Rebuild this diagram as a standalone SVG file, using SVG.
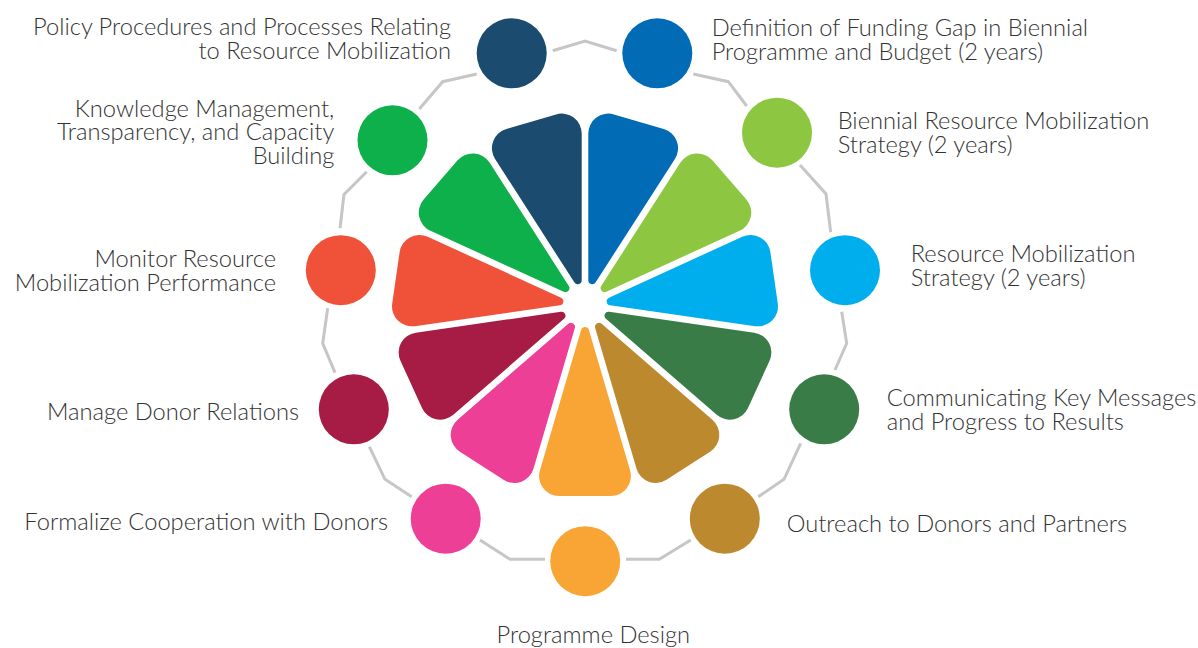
<svg xmlns="http://www.w3.org/2000/svg" width="1198" height="648" viewBox="0 0 1198 648">
<style>
.lbl{font-family:Lato,"Open Sans","Liberation Sans",sans-serif;font-weight:300;font-size:23.7px;fill:#333333}
.end{text-anchor:end}
.mid{text-anchor:middle}
.conn{fill:none;stroke:#C6C6C6;stroke-width:3;stroke-linejoin:miter}
</style>
<defs>
<path id="petal" d="M -3.84,-24.77 A 4 4 0 0 0 3.84,-24.77 L 45.14,-165.40 A 20 20 0 0 0 25.95,-191.03 L -25.95,-191.03 A 20 20 0 0 0 -45.14,-165.40 Z"/>
</defs>
<rect width="1198" height="648" fill="#FFFFFF"/>
<g id="connectors">
<polyline class="conn" points="552.7,50.7 585,41 616.7,50.7"/>
<polyline class="conn" points="693.3,74 728.3,81.7 746.7,106"/>
<polyline class="conn" points="800,165 826,194 830.7,232.3"/>
<polyline class="conn" points="841.7,311.7 846.7,343.3 835,370"/>
<polyline class="conn" points="800.7,443.3 784,479.3 758.3,496.7"/>
<polyline class="conn" points="690.7,540 659.3,559.3 626,559.3"/>
<polyline class="conn" points="545,559.3 510,559.3 480,540"/>
<polyline class="conn" points="411.7,496.7 385,479.3 369.3,446.7"/>
<polyline class="conn" points="335,372.7 322.7,343.3 327.7,308.3"/>
<polyline class="conn" points="340,228.3 344,194.5 366.7,171.7"/>
<polyline class="conn" points="419.3,109 442.7,81.7 476.7,74"/>
</g>
<g id="node-policy">
<use href="#petal" transform="translate(585 305) rotate(343.636)" fill="#1B4B6E"/>
<circle cx="511.7" cy="53.3" r="35" fill="#1B4B6E"/>
<text class="lbl end"><tspan x="451" y="35">Policy Procedures and Processes Relating</tspan><tspan x="451" y="59.3">to Resource Mobilization</tspan></text>
</g>
<g id="node-definition">
<use href="#petal" transform="translate(585 305) rotate(16.364)" fill="#016CB5"/>
<circle cx="657.3" cy="53.3" r="35" fill="#016CB5"/>
<text class="lbl"><tspan x="711.7" y="36">Definition of Funding Gap in Biennial</tspan><tspan x="711.7" y="60">Programme and Budget (2 years)</tspan></text>
</g>
<g id="node-biennial">
<use href="#petal" transform="translate(585 305) rotate(49.091)" fill="#8DC641"/>
<circle cx="777" cy="132.7" r="35" fill="#8DC641"/>
<text class="lbl"><tspan x="837.7" y="129.3">Biennial Resource Mobilization</tspan><tspan x="837.7" y="153.3">Strategy (2 years)</tspan></text>
</g>
<g id="node-strategy">
<use href="#petal" transform="translate(585 305) rotate(81.818)" fill="#00AEEE"/>
<circle cx="845" cy="270.2" r="35" fill="#00AEEE"/>
<text class="lbl"><tspan x="910.7" y="261.7">Resource Mobilization</tspan><tspan x="910.7" y="286">Strategy (2 years)</tspan></text>
</g>
<g id="node-communicating">
<use href="#petal" transform="translate(585 305) rotate(114.545)" fill="#397C48"/>
<circle cx="824.2" cy="409.3" r="35" fill="#397C48"/>
<text class="lbl"><tspan x="886.7" y="406">Communicating Key Messages</tspan><tspan x="886.7" y="430">and Progress to Results</tspan></text>
</g>
<g id="node-outreach">
<use href="#petal" transform="translate(585 305) rotate(147.273)" fill="#BD892F"/>
<circle cx="724.8" cy="518.7" r="35" fill="#BD892F"/>
<text class="lbl"><tspan x="786.7" y="531.7">Outreach to Donors and Partners</tspan></text>
</g>
<g id="node-design">
<use href="#petal" transform="translate(585 305) rotate(180)" fill="#F9A536"/>
<circle cx="585.2" cy="561.2" r="35" fill="#F9A536"/>
<text class="lbl mid"><tspan x="593.3" y="643.3">Programme Design</tspan></text>
</g>
<g id="node-formalize">
<use href="#petal" transform="translate(585 305) rotate(212.727)" fill="#EE3F96"/>
<circle cx="445.7" cy="518.7" r="35" fill="#EE3F96"/>
<text class="lbl end"><tspan x="388" y="530">Formalize Cooperation with Donors</tspan></text>
</g>
<g id="node-donor">
<use href="#petal" transform="translate(585 305) rotate(245.455)" fill="#A61C44"/>
<circle cx="353.8" cy="409.3" r="35" fill="#A61C44"/>
<text class="lbl end"><tspan x="299" y="420">Manage Donor Relations</tspan></text>
</g>
<g id="node-monitor">
<use href="#petal" transform="translate(585 305) rotate(278.182)" fill="#F05139"/>
<circle cx="340.8" cy="270.2" r="35" fill="#F05139"/>
<text class="lbl end"><tspan x="276" y="267.3">Monitor Resource</tspan><tspan x="276" y="291">Mobilization Performance</tspan></text>
</g>
<g id="node-knowledge">
<use href="#petal" transform="translate(585 305) rotate(310.909)" fill="#0DB04B"/>
<circle cx="392.5" cy="140.3" r="35" fill="#0DB04B"/>
<text class="lbl end"><tspan x="334.3" y="116.7">Knowledge Management,</tspan><tspan x="334.3" y="140">Transparency, and Capacity</tspan><tspan x="334.3" y="164">Building</tspan></text>
</g>
</svg>
